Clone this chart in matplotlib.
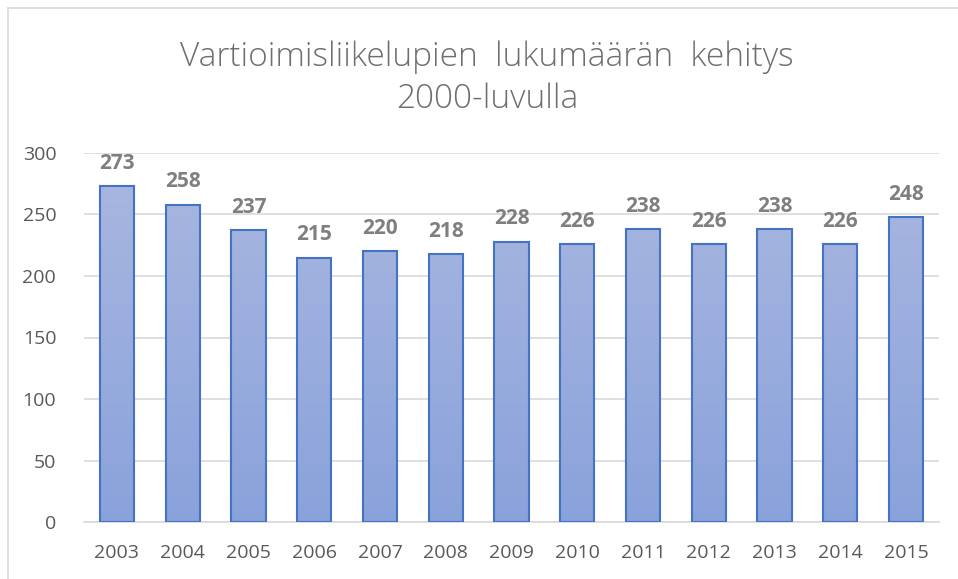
import matplotlib
matplotlib.use("Agg")
import matplotlib.pyplot as plt
import numpy as np
from matplotlib.colors import LinearSegmentedColormap
from matplotlib.lines import Line2D

years = ["2003", "2004", "2005", "2006", "2007", "2008", "2009",
         "2010", "2011", "2012", "2013", "2014", "2015"]
values = [273, 258, 237, 215, 220, 218, 228, 226, 238, 226, 238, 226, 248]
yticks = [0, 50, 100, 150, 200, 250, 300]
title = "Vartioimisliikelupien  lukumäärän  kehitys\n2000-luvulla"

plt.rcParams['font.family'] = ['Open Sans', 'DejaVu Sans']

fig = plt.figure(figsize=(9.58, 5.79), dpi=100)
ax = fig.add_axes([84/958, 1-522/579, (939-84)/958, (522-153)/579])

x = np.arange(len(years))
bars = ax.bar(x, values, width=0.52, color='none', edgecolor='#4472C4', linewidth=1.5, zorder=3)

cmap = LinearSegmentedColormap.from_list('g', ['#8AA2DB', '#AAB8E0'])
grad = np.linspace(0, 1, 256).reshape(-1, 1)
for b in bars:
    bx, by = b.get_x(), b.get_y()
    w, h = b.get_width(), b.get_height()
    im = ax.imshow(grad, extent=[bx, bx + w, 0, 300], origin='lower', cmap=cmap,
                   aspect='auto', zorder=2)
    im.set_clip_path(b)
    ax.text(bx + w/2, h + 10, str(int(h)), ha='center', va='bottom',
            fontsize=15, fontweight='bold', color='#7F7F7F', zorder=4)

ax.set_xlim(-0.5, len(years) - 0.5)
ax.set_ylim(0, 300)
ax.set_yticks(yticks)
ax.set_xticks(x)
ax.set_xticklabels(years)
ax.tick_params(axis='both', length=0, labelsize=14, colors='#595959')
ax.tick_params(axis='y', pad=20)
ax.tick_params(axis='x', pad=16)
ax.grid(axis='y', color='#D9D9D9', linewidth=1.2, zorder=0)
for s in ['top', 'right', 'left']:
    ax.spines[s].set_visible(False)
ax.spines['bottom'].set_color('#D9D9D9')
ax.spines['bottom'].set_linewidth(1.2)
ax.set_axisbelow(True)

fig.text(487/958, 1-78/579, title, ha='center', va='center', fontsize=24,
         color='#6E6E6E', linespacing=1.35, fontweight='light')

fig.add_artist(Line2D([8/958, 8/958], [0, 1-8/579], transform=fig.transFigure,
                      color='#D9D9D9', linewidth=1.2))
fig.add_artist(Line2D([8/958, 1], [1-8/579, 1-8/579], transform=fig.transFigure,
                      color='#D9D9D9', linewidth=1.2))

fig.savefig("out.png", dpi=100)
